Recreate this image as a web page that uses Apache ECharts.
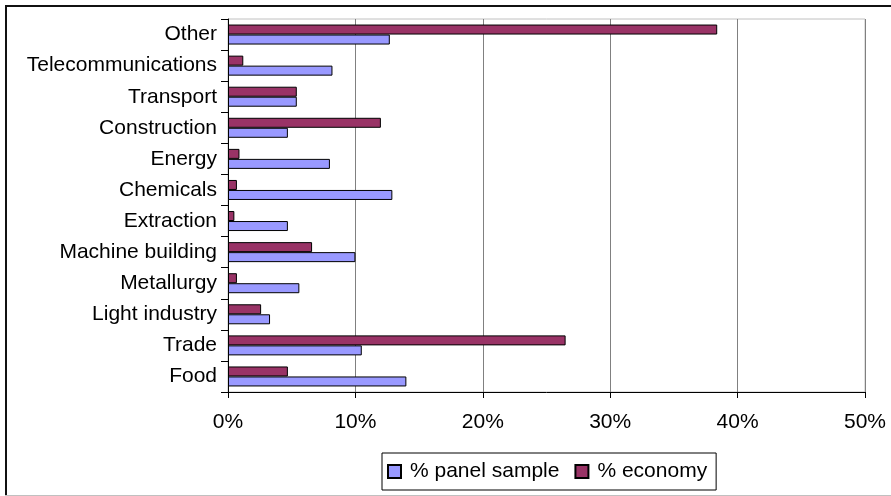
<!DOCTYPE html>
<html>
<head>
<meta charset="utf-8">
<script src="https://cdn.jsdelivr.net/npm/echarts@6/dist/echarts.min.js"></script>
<style>
  html, body { margin: 0; padding: 0; background: #fff; }
  #chart { width: 891px; height: 496px; }
</style>
</head>
<body>
<div id="chart"></div>
<script>
// categories, bottom to top as in the picture
var sectors = ['Food', 'Trade', 'Light industry', 'Metallurgy', 'Machine building', 'Extraction',
               'Chemicals', 'Energy', 'Construction', 'Transport', 'Telecommunications', 'Other'];
// % panel sample (blue)
var panelSample = [14.0, 10.5, 3.3, 5.6, 10.0, 4.7, 12.9, 8.0, 4.7, 5.4, 8.2, 12.7];
// % economy (maroon)
var economy = [4.7, 26.5, 2.6, 0.7, 6.6, 0.5, 0.7, 0.9, 12.0, 5.4, 1.2, 38.4];
var xTicks = [0, 10, 20, 30, 40, 50];

var font = 'Liberation Sans, Arial, sans-serif';
var chart = echarts.init(document.getElementById('chart'));

chart.setOption({
    animation: false,
    textStyle: { fontFamily: font },
    grid: {
        left: 228, right: 26, top: 19, bottom: 104,
        show: true, borderColor: '#c0c0c0', borderWidth: 1
    },
    legend: {
        left: 382, top: 453,
        padding: [8, 9, 8, 5],
        itemGap: 15,
        itemWidth: 13, itemHeight: 13,
        icon: 'rect',
        borderColor: '#000', borderWidth: 1,
        textStyle: { fontFamily: font, fontSize: 21, color: '#000', padding: [0, 0, 0, 4] },
        data: ['% panel sample', '% economy']
    },
    xAxis: {
        type: 'value',
        min: xTicks[0], max: xTicks[xTicks.length - 1], interval: 10,
        axisLine: { show: true, lineStyle: { color: '#000', width: 1 } },
        axisTick: { show: true, length: 6, lineStyle: { color: '#000' } },
        axisLabel: {
            margin: 20, fontSize: 21, color: '#000', fontFamily: font,
            formatter: function (v) { return v + '%'; }
        },
        splitLine: { show: true, lineStyle: { color: '#808080', width: 1 } }
    },
    yAxis: {
        type: 'category',
        data: sectors,
        axisLine: { show: true, lineStyle: { color: '#000', width: 1 } },
        axisTick: { show: true, length: 7, lineStyle: { color: '#000' } },
        axisLabel: { margin: 11, fontSize: 21, color: '#000', fontFamily: font }
    },
    // economy first so it sits on top within each category
    series: [
        {
            name: '% economy', type: 'bar', data: economy,
            barWidth: 10, barGap: '0%',
            itemStyle: { color: '#993366', borderColor: '#000', borderWidth: 1 }
        },
        {
            name: '% panel sample', type: 'bar', data: panelSample,
            barWidth: 10, barGap: '0%',
            itemStyle: { color: '#9999FF', borderColor: '#000', borderWidth: 1 }
        }
    ],
    graphic: [
        { type: 'line', shape: { x1: 6, y1: 5, x2: 6, y2: 496 }, style: { stroke: '#111', lineWidth: 2 } },
        { type: 'line', shape: { x1: 5, y1: 6, x2: 891, y2: 6 }, style: { stroke: '#111', lineWidth: 2 } },
        { type: 'line', shape: { x1: 5, y1: 495.5, x2: 891, y2: 495.5 }, style: { stroke: '#c0c0c0', lineWidth: 1 } }
    ]
});
</script>
</body>
</html>
